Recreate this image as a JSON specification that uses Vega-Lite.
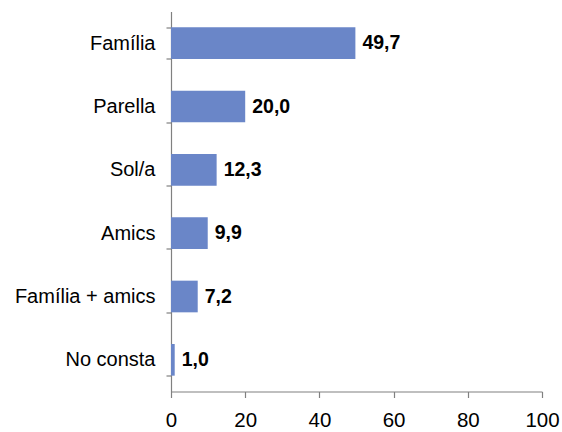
{
  "$schema": "https://vega.github.io/schema/vega-lite/v6.json",
  "autosize": "none",
  "width": 371,
  "height": 380,
  "padding": {"left": 171, "top": 11.5, "right": 20, "bottom": 40.5},
  "background": "white",
  "config": {
    "view": {"stroke": null},
    "font": "Liberation Sans",
    "locale": {"number": {"decimal": ",", "thousands": ".", "grouping": [3], "currency": ["", " €"]}}
  },
  "data": {"values": [
    {"cat": "Família", "value": 49.7},
    {"cat": "Parella", "value": 20.0},
    {"cat": "Sol/a", "value": 12.3},
    {"cat": "Amics", "value": 9.9},
    {"cat": "Família + amics", "value": 7.2},
    {"cat": "No consta", "value": 1.0}
  ]},
  "encoding": {
    "y": {"field": "cat", "type": "nominal", "sort": null,
      "scale": {"paddingInner": 0.5, "paddingOuter": 0.25},
      "axis": {"title": null, "domainColor": "#808080", "tickColor": "#808080", "tickSize": 5, "tickBand": "extent",
        "labelFontSize": 20, "labelColor": "#000000", "labelPadding": 11, "domainWidth": 1.2, "tickWidth": 1.2}},
    "x": {"field": "value", "type": "quantitative",
      "scale": {"domain": [0, 100], "nice": false},
      "axis": {"title": null, "values": [0, 20, 40, 60, 80, 100], "grid": false, "domainColor": "#808080", "tickColor": "#808080", "tickSize": 6,
        "labelFontSize": 20.5, "labelColor": "#000000", "labelPadding": 13, "labelFlush": false, "domainWidth": 1.2, "tickWidth": 1.2, "format": "d"}}
  },
  "layer": [
    {"mark": {"type": "bar", "color": "#6a86c8"}},
    {"mark": {"type": "text", "align": "left", "dx": 7, "fontWeight": "bold", "fontSize": 19.5, "color": "#000000"},
      "encoding": {"text": {"field": "value", "type": "quantitative", "format": ".1f"}}}
  ]
}
